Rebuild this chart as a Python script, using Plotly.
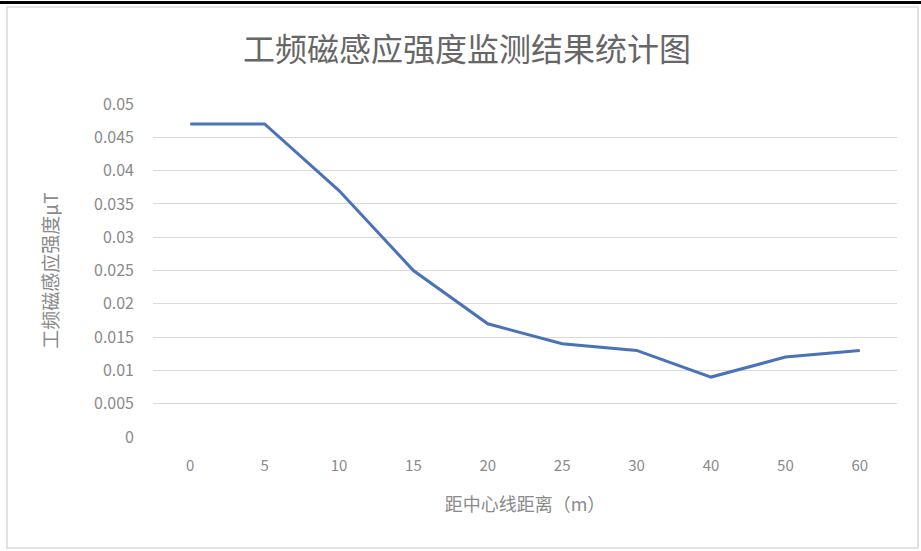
import plotly.graph_objects as go

categories = ["0", "5", "10", "15", "20", "25", "30", "40", "50", "60"]
values = [0.047, 0.047, 0.037, 0.025, 0.017, 0.014, 0.013, 0.009, 0.012, 0.013]
y_ticks = [0, 0.005, 0.01, 0.015, 0.02, 0.025, 0.03, 0.035, 0.04, 0.045, 0.05]
y_labels = ["0", "0.005", "0.01", "0.015", "0.02", "0.025", "0.03", "0.035", "0.04", "0.045", "0.05"]

title = "工频磁感应强度监测结果统计图"
x_title = "距中心线距离（m）"
y_title = "工频磁感应强度μT"

font_family = "Noto Sans CJK SC, Noto Sans, sans-serif"
gray = "#8a8a8a"

fig = go.Figure()
fig.add_trace(go.Scatter(
    x=categories, y=values, mode="lines",
    line=dict(color="#4a72b8", width=3),
    showlegend=False, hoverinfo="x+y",
))

W, H = 921, 551
ml, mr, mt, mb = 153, 24, 104, 114
ph = H - mt - mb
pw = W - ml - mr

def py(pix):
    return (H - mb - pix) / ph

def px(pix):
    return (pix - ml) / pw

fig.update_layout(
    width=W, height=H,
    margin=dict(l=ml, r=mr, t=mt, b=mb),
    paper_bgcolor="white", plot_bgcolor="white",
    font=dict(family=font_family, color=gray, size=13),
    title=dict(text=title, x=467 / W, xanchor="center", y=1 - 50 / H, yanchor="middle",
               font=dict(size=32, color="#666666", family=font_family)),
    xaxis=dict(
        type="category", categoryorder="array", categoryarray=categories,
        range=[-0.5, len(categories) - 0.5],
        showgrid=False, showline=False, zeroline=False,
        ticks="", tickfont=dict(size=15, color=gray), ticklabelstandoff=18,
        title=dict(text=x_title, font=dict(size=18, color=gray), standoff=24),
    ),
    yaxis=dict(
        range=[0, 0.05], tickvals=y_ticks, ticktext=y_labels,
        showgrid=True, gridcolor="#d9d9d9", gridwidth=1,
        zeroline=False, showline=False, ticks="",
        tickfont=dict(size=16, color=gray), ticklabelstandoff=18,
        title=dict(text=y_title, font=dict(size=19, color=gray), standoff=30),
    ),
)

# outer decorations: black top bar and light frame
fig.add_shape(type="rect", xref="paper", yref="paper",
              x0=px(0), x1=px(W), y0=py(4), y1=py(1),
              fillcolor="black", line=dict(width=0), layer="above")
fig.add_shape(type="rect", xref="paper", yref="paper",
              x0=px(7), x1=px(918), y0=py(548), y1=py(7),
              fillcolor="rgba(0,0,0,0)", line=dict(color="#d9d9d9", width=1.5), layer="below")

fig.write_html("out.html")
